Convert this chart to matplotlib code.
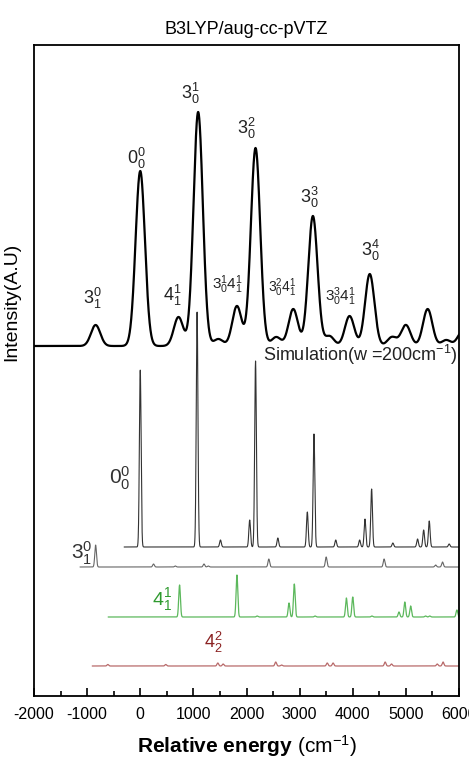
import numpy as np
import matplotlib.pyplot as plt

plt.rcParams['font.family'] = ['Liberation Sans', 'DejaVu Sans']
plt.rcParams['mathtext.fontset'] = 'custom'
plt.rcParams['mathtext.rm'] = 'Liberation Sans'
plt.rcParams['mathtext.it'] = 'Liberation Sans'
plt.rcParams['mathtext.bf'] = 'Liberation Sans:bold'
plt.rcParams['axes.unicode_minus'] = False

# Simulated envelope (w = 200 cm-1): peak positions (cm-1) and heights (A.U.)
broad_pos = [-840, 0, 720, 1090, 1470, 1820, 2170, 2560, 2880, 3250, 3560,
             3940, 4320, 4740, 5000, 5410, 5760, 6060]
broad_amp = [21, 175, 29, 234, 7, 40, 198, 9, 37, 130, 10,
             30, 72, 9, 21, 37, 6, 14]

# Stick-like spectra of each progression (positions cm-1, heights A.U.)
p00_pos = [0, 1070, 1510, 2060, 2170, 2590, 3145, 3270, 3680, 4130, 4230,
           4355, 4755, 5220, 5335, 5440, 5815]
p00_amp = [177, 235, 7, 27, 186, 9, 35, 113, 7, 7, 28, 58, 4, 8, 17, 26, 3]

p31_pos = [-840, 250, 660, 1200, 1280, 2420, 3500, 4590, 5560, 5690]
p31_amp = [22, 3, 1, 3, 1, 8, 10, 8, 2, 5]

p41_pos = [740, 1820, 2200, 2800, 2900, 3290, 3880, 4000, 4360, 4870, 4980,
           5090, 5370, 5450, 5960]
p41_amp = [32, 42, 1, 14, 33, 1, 19, 20, 1, 5, 15, 11, 1, 1, 7]

p42_pos = [-610, 480, 1460, 1560, 2550, 2660, 3520, 3630, 4610, 4730, 5590, 5700]
p42_amp = [1.5, 1.5, 3, 2, 4, 1, 3, 3, 4, 2, 2, 4]

# where each trace starts and its vertical offset
starts = {'broad': -2000, 'p00': -300, 'p31': -1130, 'p41': -600, 'p42': -900}
offsets = {'broad': 350, 'p00': 149, 'p31': 129, 'p41': 79, 'p42': 30}


def spectrum(x, pos, amp, sigma):
    y = np.zeros_like(x)
    for p, a in zip(pos, amp):
        y += a * np.exp(-0.5 * ((x - p) / sigma) ** 2)
    return y


fig = plt.figure(figsize=(4.69, 7.70), dpi=100)
ax = fig.add_axes([34 / 469, 74 / 770, 425 / 469, 651 / 770])

traces = [
    ('p00', p00_pos, p00_amp, 16, '#333333', 0.8),
    ('p31', p31_pos, p31_amp, 16, '#666666', 0.8),
    ('p41', p41_pos, p41_amp, 16, '#5cb85c', 0.9),
    ('p42', p42_pos, p42_amp, 16, '#b86a6a', 0.9),
]
for key, pos, amp, sig, col, lw in traces:
    x = np.linspace(starts[key], 6000, 4000)
    ax.plot(x, spectrum(x, pos, amp, sig) + offsets[key], color=col, lw=lw)

xb = np.linspace(-2000, 6000, 3000)
ax.plot(xb, spectrum(xb, broad_pos, broad_amp, 88) + offsets['broad'],
        color='black', lw=1.6)

# peak assignments on the envelope
labels = [
    (-905, 398, r'$\mathregular{3^0_1}$', 13),
    (-75, 538, r'$\mathregular{0^0_0}$', 13),
    (600, 401, r'$\mathregular{4^1_1}$', 13),
    (945, 603, r'$\mathregular{3^1_0}$', 13),
    (1640, 411, r'$\mathregular{3^1_04^1_1}$', 11),
    (2000, 568, r'$\mathregular{3^2_0}$', 13),
    (2680, 408, r'$\mathregular{3^2_04^1_1}$', 10),
    (3190, 499, r'$\mathregular{3^3_0}$', 13),
    (3770, 399, r'$\mathregular{3^3_04^1_1}$', 11),
    (4340, 446, r'$\mathregular{3^4_0}$', 13),
]
for x, y, s, fs in labels:
    ax.text(x, y, s, fontsize=fs, ha='center', va='center', color='#222222')

ax.text(5975, 341, r'Simulation(w =200cm$^{-1}$)', fontsize=13,
        ha='right', va='center', color='#222222')

ax.text(-380, 218, r'$\mathregular{0^0_0}$', fontsize=15, ha='center',
        va='center', color='#333333')
ax.text(-1100, 143, r'$\mathregular{3^0_1}$', fontsize=15, ha='center',
        va='center', color='#333333')
ax.text(410, 96, r'$\mathregular{4^1_1}$', fontsize=14, ha='center',
        va='center', color='#2e9a2e')
ax.text(1380, 54, r'$\mathregular{4^2_2}$', fontsize=13, ha='center',
        va='center', color='#8b2222')

ax.set_xlim(-2000, 6000)
ax.set_ylim(0, 651)
ax.set_xticks(np.arange(-2000, 6001, 1000))
ax.set_xticks(np.arange(-1500, 6000, 1000), minor=True)
ax.set_yticks([])
ax.tick_params(axis='x', which='major', direction='in', length=6, width=1.2,
               labelsize=11.5, pad=8)
ax.tick_params(axis='x', which='minor', direction='in', length=3.5, width=1.2)
for sp in ax.spines.values():
    sp.set_linewidth(1.3)

ax.set_xlabel(r'$\mathbf{Relative\ energy}$ (cm$^{-1}$)', fontsize=15,
              labelpad=8)
fig.text(12 / 469, 1 - 302 / 770, 'Intensity(A.U)', fontsize=14,
         rotation=90, ha='center', va='center')
ax.set_title('B3LYP/aug-cc-pVTZ', fontsize=13, pad=8)

fig.savefig('out.png', dpi=100)
